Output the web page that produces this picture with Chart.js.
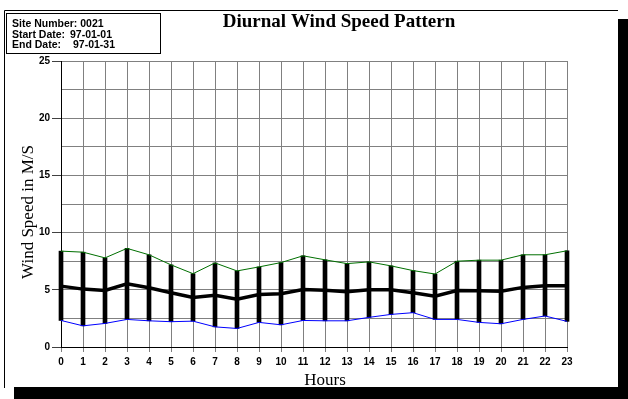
<!DOCTYPE html>
<html>
<head>
<meta charset="utf-8">
<script src="https://cdn.jsdelivr.net/npm/chart.js@4.4.0/dist/chart.umd.min.js"></script>
<style>
  html, body { margin: 0; padding: 0; background: #ffffff; }
  #c { display: block; }
</style>
</head>
<body>
<canvas id="c" width="628" height="399"></canvas>
<script>
const hours = ['0','1','2','3','4','5','6','7','8','9','10','11','12','13','14','15','16','17','18','19','20','21','22','23'];
const maxSpeed  = [8.38, 8.29, 7.79, 8.62, 8.06, 7.18, 6.41, 7.35, 6.65, 7.00, 7.38, 7.97, 7.62, 7.29, 7.44, 7.09, 6.68, 6.38, 7.50, 7.59, 7.59, 8.06, 8.06, 8.41];
const meanSpeed = [5.32, 5.06, 4.94, 5.53, 5.18, 4.74, 4.32, 4.53, 4.18, 4.59, 4.65, 5.03, 4.97, 4.82, 5.00, 5.00, 4.74, 4.44, 4.94, 4.91, 4.88, 5.21, 5.35, 5.35];
const minSpeed  = [2.32, 1.85, 2.06, 2.41, 2.29, 2.21, 2.26, 1.76, 1.62, 2.15, 1.94, 2.32, 2.29, 2.29, 2.59, 2.85, 3.00, 2.41, 2.41, 2.15, 2.03, 2.41, 2.71, 2.24];
const yMajorTicks = [0, 5, 10, 15, 20, 25];
const infoLines = [['Site Number: 0021', ''], ['Start Date:', '97-01-01'], ['End Date:', '97-01-31']];
const titleText = 'Diurnal Wind Speed Pattern';
const xTitle = 'Hours';
const yTitle = 'Wind Speed in M/S';

const decor = {
  id: 'decor',
  beforeDraw(chart) {
    const ctx = chart.ctx;
    ctx.save();
    ctx.fillStyle = '#ffffff';
    ctx.fillRect(0, 0, 628, 399);
    // shadow
    ctx.fillStyle = '#000000';
    ctx.fillRect(618, 19, 10, 380);
    ctx.fillRect(14, 387, 614, 12);
    // frame lines
    ctx.strokeStyle = '#000000';
    ctx.lineWidth = 1;
    ctx.beginPath();
    ctx.moveTo(4.5, 388);
    ctx.lineTo(4.5, 10.5);
    ctx.lineTo(618, 10.5);
    ctx.stroke();
    // info box
    ctx.strokeRect(6.5, 13.5, 154, 40);
    ctx.fillStyle = '#000000';
    ctx.font = 'bold 10.5px "Liberation Sans", Arial, sans-serif';
    ctx.textBaseline = 'alphabetic';
    ctx.textAlign = 'left';
    const valX = [0, 70, 73];
    infoLines.forEach((l, i) => {
      const y = 27 + i * 10.5;
      ctx.fillText(l[0], 12, y);
      if (l[1]) ctx.fillText(l[1], valX[i], y);
    });
    ctx.restore();
  },
  afterDraw(chart) {
    const ctx = chart.ctx;
    ctx.save();
    ctx.fillStyle = '#000000';
    ctx.textAlign = 'center';
    ctx.textBaseline = 'alphabetic';
    ctx.font = 'bold 19px "Liberation Serif", "Times New Roman", serif';
    ctx.fillText(titleText, 339, 27);
    ctx.font = '17px "Liberation Serif", "Times New Roman", serif';
    ctx.fillText(xTitle, 325, 385);
    ctx.translate(33, 212);
    ctx.rotate(-Math.PI / 2);
    ctx.fillText(yTitle, 0, 0);
    ctx.restore();
  }
};

new Chart(document.getElementById('c'), {
  type: 'bar',
  data: {
    labels: hours,
    datasets: [
      {
        type: 'line', label: 'Mean', data: meanSpeed,
        borderColor: '#000000', borderWidth: 3.5, pointRadius: 0, tension: 0, order: 1, clip: false
      },
      {
        type: 'line', label: 'Max', data: maxSpeed,
        borderColor: '#006f00', borderWidth: 1, pointRadius: 0, tension: 0, order: 2, clip: false
      },
      {
        type: 'line', label: 'Min', data: minSpeed,
        borderColor: '#0000ff', borderWidth: 1, pointRadius: 0, tension: 0, order: 3, clip: false
      },
      {
        type: 'bar', label: 'Range', data: hours.map((h, i) => [minSpeed[i], maxSpeed[i]]),
        backgroundColor: '#000000', borderWidth: 0, barThickness: 4, order: 4, clip: false
      }
    ]
  },
  options: {
    responsive: false,
    animation: false,
    devicePixelRatio: 1,
    layout: { padding: { top: 61, right: 61, left: 0, bottom: 0 } },
    plugins: { legend: { display: false }, tooltip: { enabled: false }, title: { display: false } },
    scales: {
      x: {
        type: 'category',
        offset: false,
        grid: { color: '#808080', offset: false, tickLength: 5, tickColor: '#808080', lineWidth: 1 },
        border: { color: '#000000', width: 1 },
        ticks: {
          autoSkip: false, maxRotation: 0, minRotation: 0, padding: 4,
          color: '#000000', font: { family: '"Liberation Sans", Arial, sans-serif', size: 10, weight: 'bold' }
        },
        afterFit(scale) { scale.height = 52; }
      },
      y: {
        min: 0, max: 25,
        grid: {
          color: '#808080', tickLength: 9, lineWidth: 1,
          tickColor: (c) => (c.tick && c.tick.value % 5 === 0) ? '#404040' : 'rgba(0,0,0,0)'
        },
        border: { color: '#000000', width: 1 },
        ticks: {
          stepSize: 2.5, padding: 2, color: '#000000',
          font: { family: '"Liberation Sans", Arial, sans-serif', size: 10, weight: 'bold' },
          callback: (v) => yMajorTicks.includes(v) ? String(v) : ''
        },
        afterFit(scale) { scale.width = 61; }
      }
    }
  },
  plugins: [decor]
});
</script>
</body>
</html>
